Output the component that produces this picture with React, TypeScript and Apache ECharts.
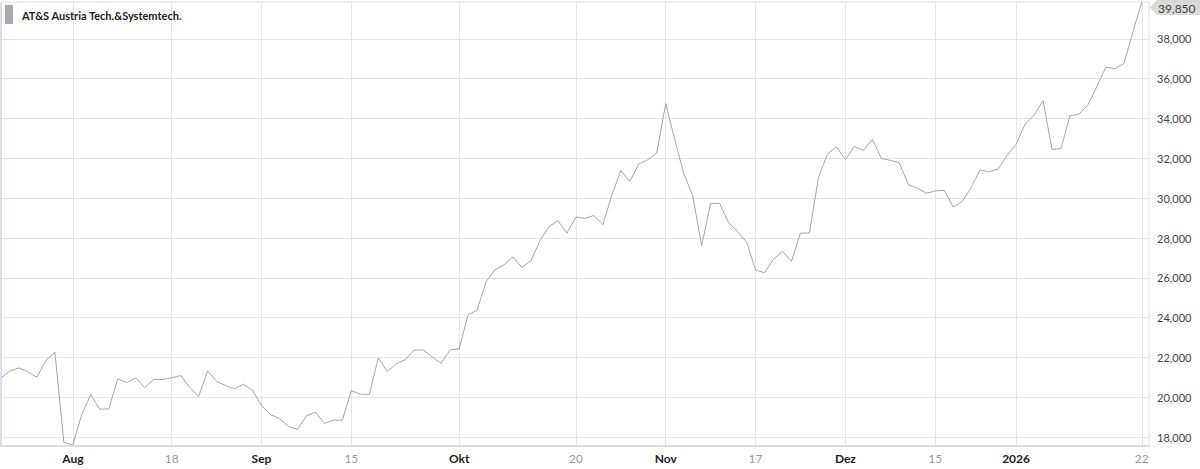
import React, { useEffect, useRef } from "react";
import * as echarts from "echarts";

const seriesName = "AT&S Austria Tech.&Systemtech.";

// daily closing prices, 22 Jul 2025 .. 22 Jan 2026 (trading days)
const prices = [
  20980, 21330, 21480, 21280, 21010, 21850, 22270, 17730, 17630, 19160,
  20140, 19410, 19420, 20930, 20750, 20980, 20490, 20900, 20900, 20980,
  21100, 20510, 20040, 21330, 20800, 20600, 20430, 20660, 20360, 19590,
  19140, 18940, 18540, 18390, 19070, 19260, 18690, 18855, 18860, 20340,
  20160, 20150, 21970, 21300, 21680, 21890, 22380, 22380, 22040, 21710,
  22390, 22430, 24150, 24380, 25810, 26410, 26660, 27050, 26530, 26860,
  27870, 28570, 28870, 28250, 29050, 28990, 29130, 28670, 30150, 31390,
  30840, 31710, 31930, 32280, 34750, 32950, 31240, 30140, 27610, 29740,
  29740, 28770, 28320, 27800, 26390, 26260, 26940, 27330, 26830, 28250,
  28250, 31040, 32210, 32580, 31940, 32600, 32410, 32950, 32000, 31900,
  31780, 30680, 30510, 30250, 30360, 30400, 29560, 29830, 30530, 31420,
  31330, 31470, 32150, 32700, 33710, 34160, 34910, 32450, 32490, 34140,
  34210, 34690, 35610, 36580, 36500, 36760, 38330, 39850,
];

const tickIndex = [8, 19, 29, 39, 51, 64, 74, 84, 94, 104, 113, 127];
const tickLabels = ["Aug", "18", "Sep", "15", "Okt", "20", "Nov", "17", "Dez", "15", "2026", "22"];
const tickIsMonth = [true, false, true, false, true, false, true, false, true, false, true, false];

const yTicks = [18000, 20000, 22000, 24000, 26000, 28000, 30000, 32000, 34000, 36000, 38000];
const yMin = 17560;
const yMax = 39850;
const xMax = 127.8;
const lastValueLabel = "39,850";

const FONT = "Lato, 'Noto Sans', sans-serif";

export default function App() {
  const ref = useRef<HTMLDivElement>(null);

  useEffect(() => {
    if (!ref.current) return;
    const chart = echarts.init(ref.current, undefined, { renderer: "svg" });
    const fmt = new Intl.NumberFormat("en-US");

    chart.setOption({
      animation: false,
      backgroundColor: "#ffffff",
      grid: {
        left: 1,
        right: 51,
        top: 2,
        bottom: 23,
        show: true,
        borderColor: "#e2e2e2",
        borderWidth: 1,
      },
      xAxis: {
        type: "value",
        min: 0,
        max: xMax,
        axisLine: { show: true, onZero: false, lineStyle: { color: "#dcdcdc", width: 2 } },
        axisTick: { show: false, customValues: tickIndex },
        axisLabel: {
          customValues: tickIndex,
          margin: 6,
          fontFamily: FONT,
          fontSize: 12,
          formatter: (v: number) => {
            const k = tickIndex.indexOf(Math.round(v));
            if (k < 0) return "";
            return tickIsMonth[k] ? `{m|${tickLabels[k]}}` : `{d|${tickLabels[k]}}`;
          },
          rich: {
            m: { fontFamily: FONT, fontSize: 12, fontWeight: "bold", color: "#222222" },
            d: { fontFamily: FONT, fontSize: 12, color: "#9a9a9a" },
          },
        },
        splitLine: { show: true, lineStyle: { color: "#e6e6e6", width: 1 } },
      },
      yAxis: {
        type: "value",
        position: "right",
        min: yMin,
        max: yMax,
        axisLine: { show: true, lineStyle: { color: "#dcdcdc", width: 1 } },
        axisTick: { show: false, customValues: yTicks },
        axisLabel: {
          customValues: yTicks,
          margin: 8,
          fontFamily: FONT,
          fontSize: 11,
          color: "#444444",
          formatter: (v: number) => fmt.format(v),
        },
        splitLine: { show: true, lineStyle: { color: "#e6e6e6", width: 1 } },
      },
      series: [
        {
          name: seriesName,
          type: "line",
          symbol: "none",
          data: prices.map((v, i) => [i, v]),
          lineStyle: { color: "#a6a6a6", width: 1 },
        },
      ],
      graphic: [
        { type: "line", shape: { x1: 1, y1: 2, x2: 1, y2: 446 }, style: { stroke: "#d8d8f0", lineWidth: 1.5 }, z: 100 },
        { type: "rect", shape: { x: 5, y: 5, width: 8, height: 19 }, style: { fill: "#a9a9a9" }, z: 100 },
        {
          type: "text",
          x: 22,
          y: 15,
          style: {
            text: seriesName,
            fontFamily: FONT,
            fontSize: 11,
            fontWeight: "bold",
            fill: "#222222",
            verticalAlign: "middle",
          },
          z: 100,
        },
        {
          type: "polygon",
          shape: { points: [[1150, 7.5], [1157, 0], [1200, 0], [1200, 15], [1157, 15]] },
          style: { fill: "#d9d9d9" },
          z: 100,
        },
        {
          type: "text",
          x: 1158,
          y: 8,
          style: {
            text: lastValueLabel,
            fontFamily: FONT,
            fontSize: 12,
            fill: "#444444",
            verticalAlign: "middle",
          },
          z: 101,
        },
      ],
    });

    return () => chart.dispose();
  }, []);

  return (
    <div
      ref={ref}
      style={{ position: "fixed", left: 0, top: 0, width: 1200, height: 469 }}
    />
  );
}
